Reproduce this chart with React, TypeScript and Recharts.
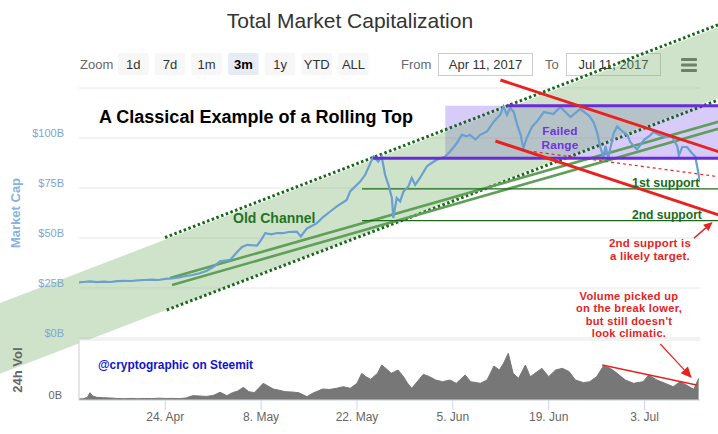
import React from 'react';
import {
  ComposedChart,
  Line,
  AreaChart,
  Area,
  XAxis,
  YAxis,
  CartesianGrid,
  ReferenceLine,
  ReferenceArea,
} from 'recharts';

const FONT = "'Liberation Sans', Arial, Helvetica, sans-serif";

// x values are days after 11 Apr 2017
const capDays = [
  0.4, 1, 2, 3, 4, 5, 6, 7, 8, 9, 10, 11, 12, 13, 14, 15, 16, 17, 18, 19, 20, 21, 22, 22.5, 23.5,
  24.2, 25, 26.4, 27, 27.6, 28.5, 29.3, 30.2, 31, 32.2, 32.8, 33.7, 35.1, 36.1, 37, 38, 39.5, 40,
  41.5, 42.2, 43.4, 44.1, 44.6, 45.1, 45.6, 46.1, 46.3, 46.8, 47.3, 47.8, 48.5, 49, 49.5, 50.2,
  51.2, 51.9, 52.7, 53.9, 54.6, 55.6, 56.3, 57, 57.5, 58.3, 59, 60, 61, 61.9, 62.4, 62.9, 63.4,
  63.9, 64.4, 64.9, 65.3, 65.8, 66.6, 67.3, 68.3, 69.7, 70.7, 72.2, 73.6, 74.4, 75, 75.6, 76.1,
  76.5, 77, 77.3, 77.7, 78.5, 79, 79.7, 80.5, 80.9, 81.9, 82.9, 83.9, 84.3, 85.1, 86, 87, 87.8,
  88, 88.5, 89.2, 89.9, 90.4, 90.7, 91.1,
];
// total market cap, $B
const capValues = [
  27.8, 28.0, 28.3, 27.9, 28.2, 28.0, 28.4, 28.6, 28.5, 28.8, 29.0, 29.2, 29.0, 29.6, 29.8, 30.3, 31.0, 31.5, 32.4, 33.5, 35.5, 38.3, 38.8, 39.1, 43,
  45.5, 46.6, 46.2, 49, 52.4, 51.8, 52.5, 52.4, 53, 53.2, 50.8, 54.8, 57.3, 60.6, 63, 65.7, 69, 73.3,
  78.3, 81.6, 90.8, 88.3, 90.8, 81.6, 76.6, 70, 60, 70, 68.3, 73.3, 75.8, 80, 76.6, 80,
  85.8, 87.5, 89.2, 90.8, 93.3, 97.5, 101.6, 100.8, 101.6, 99.2, 101.6, 103.3, 108.3, 111.6, 115.8, 111.6, 115,
  113, 106.6, 101.6, 95, 100, 105.8, 108.3, 113, 112, 115.5, 110.5, 114.5, 112.5, 110.8, 107.5, 102.5,
  95.8, 90.5, 96, 90, 102.5, 105.8, 103.5, 101.5, 98, 94.2, 99, 101.6, 103, 101.6, 100.5, 100.8, 95.8,
  91.2, 95.5, 95.5, 92.5, 90.8, 85.5, 78,
];

const volDays = [
  0.4, 1, 1.6, 2, 2.4, 3,
  4, 5, 6, 7, 8, 9, 10, 11, 12, 13, 14, 15, 16, 17, 18, 19, 20, 21, 22,
  22.8, 23.6, 24.4, 25.2, 26,
  27.3, 28, 28.8, 29.5, 30.5, 31.5, 32.5, 33.7, 34.5,
  36, 37, 38, 39, 40, 41,
  41.7, 42.3, 43, 44, 44.6, 45.2, 46, 46.5, 47, 47.8, 48.4, 49,
  50, 50.7, 51.6, 52.5, 53.5, 54.6, 55.5, 56.8, 57.6,
  59, 60, 61, 61.8, 62.4, 63.1, 63.8, 64.6, 65.6, 66.3, 67,
  68, 69, 70, 71, 72, 72.9, 74.1, 75, 76, 77, 78, 79,
  80.2, 81.4, 82.8, 83.6, 84.8, 86, 87.2, 88.2, 89.1, 90.2, 90.9,
];
// 24h volume, $B
const volValues = [
  0.15, 0.18, 0.38, 1.1, 0.6, 0.4,
  0.35, 0.3, 0.23, 0.2, 0.24, 0.2, 0.23, 0.21, 0.27, 0.23, 0.24, 0.2, 0.3, 0.65, 0.6, 0.54, 0.68, 1.16, 0.65,
  1.1, 1.35, 1.9, 1.25, 1.1,
  2.5, 2.1, 1.65, 1.5, 1.25, 1.2, 1.1, 0.5, 1.0,
  1.65, 1.58, 1.75, 2.0, 1.75, 2.5,
  4.0, 3.5, 3.1, 4.0, 5.25, 4.75, 4.0, 4.25, 4.5, 3.5, 2.5, 1.75,
  3.0, 3.85, 3.5, 3.0, 2.75, 3.0, 2.5, 3.75, 2.75,
  2.5, 3.0, 5.1, 4.5, 5.5, 7.0, 4.0, 3.25, 5.25, 3.5, 4.0,
  4.75, 3.5, 4.5, 4.75, 4.25, 3.0, 2.6, 2.75, 3.5, 5.1, 4.75, 4.0,
  3.0, 2.5, 2.75, 3.75, 3.0, 2.5, 2.0, 2.75, 2.25, 1.6, 3.25,
];

const capTicks = [0, 25, 50, 75, 100, 125];
const volTicks = [0, 9];
const dateTicks = [13, 27, 41, 55, 69, 83];
const dateLabels = ['24. Apr', '8. May', '22. May', '5. Jun', '19. Jun', '3. Jul'];
const zoomButtons = ['1d', '7d', '1m', '3m', '1y', 'YTD', 'ALL'];
const selectedZoom = '3m';
const dateRange = ['Apr 11, 2017', 'Jul 11, 2017'];

// drawn-on annotations, in (day, $B)
const channelCenter = [{ x: -25.8, y: -19.5 }, { x: 105.8, y: 153.6 }];
const channelTop = [{ x: 12.97, y: 50.25 }, { x: 99.96, y: 164.8 }];
const channelBottom = [{ x: 13.22, y: 14 }, { x: 99.96, y: 127.05 }];
const oldChannelA = [{ x: 13.7, y: 30 }, { x: 95, y: 109.3 }];
const oldChannelB = [{ x: 13.99, y: 26.5 }, { x: 95, y: 105.8 }];
const failedRange = { x1: 53.9, x2: 96, y1: 89.85, y2: 116.15 };
const rangeBottomStart = 43.34;
const rangeTopStart = 62.9;
const supports = [74.6, 58.65];
const supportStart = 41.73;
const redUpper = [{ x: 61.95, y: 129 }, { x: 95, y: 91.8 }];
const redLower = [{ x: 61.22, y: 98.5 }, { x: 95, y: 60.2 }];
const redDotted = [{ x: 66.82, y: 93.15 }, { x: 95, y: 80.1 }];
const targetArrow = [{ x: 90.21, y: 49.85 }, { x: 92.94, y: 58 }];
const volTrend = [{ x: 76.82, y: 5.25 }, { x: 90.6, y: 2.25 }];
const volArrow = [{ x: 85.3, y: 8.4 }, { x: 89.9, y: 3.3 }];

const capData = capDays.map((d, i) => ({ d, cap: capValues[i] }));
const volData = volDays.map((d, i) => ({ d, vol: volValues[i] }));

const RED = '#e8231f';
const PURPLE = '#6a2bd8';
const DARK_GREEN = '#1c6b1c';

function arrowShape(color: string, width: number, head: number) {
  return (p: any) => {
    const x1 = p.x1 ?? p.points?.[0]?.x;
    const y1 = p.y1 ?? p.points?.[0]?.y;
    const x2 = p.x2 ?? p.points?.[1]?.x;
    const y2 = p.y2 ?? p.points?.[1]?.y;
    const a = Math.atan2(y2 - y1, x2 - x1);
    const bx = x2 - head * Math.cos(a);
    const by = y2 - head * Math.sin(a);
    const px = Math.sin(a) * head * 0.45;
    const py = -Math.cos(a) * head * 0.45;
    return (
      <g>
        <line x1={x1} y1={y1} x2={bx} y2={by} stroke={color} strokeWidth={width} />
        <polygon points={`${x2},${y2} ${bx + px},${by + py} ${bx - px},${by - py}`} fill={color} />
      </g>
    );
  };
}

const renderCapTick = (props: any) => {
  const { y, payload } = props;
  if (payload.value === 125) return <g />;
  return (
    <text x={64} y={y - 1.5} textAnchor="end" fill="#7fa6cf" fontSize={11} fontFamily={FONT}>
      {`$${payload.value}B`}
    </text>
  );
};

const renderVolTick = (props: any) => {
  const { y, payload } = props;
  if (payload.value !== 0) return <g />;
  return (
    <text x={62} y={y - 1} textAnchor="end" fill="#666" fontSize={11} fontFamily={FONT}>
      0B
    </text>
  );
};

function TopBar() {
  return (
    <svg width={718} height={434} style={{ position: 'absolute', left: 0, top: 0 }}>
      <text x={350} y={28} textAnchor="middle" fontSize={21} fill="#333" fontFamily={FONT}>
        Total Market Capitalization
      </text>
      <text x={80} y={69} fontSize={13} fill="#666" fontFamily={FONT}>Zoom</text>
      {zoomButtons.map((b, i) => {
        const x = 118 + i * 36.7;
        const sel = b === selectedZoom;
        return (
          <g key={b}>
            <rect x={x} y={53} width={30.5} height={22} rx={2} fill={sel ? '#e6ebf5' : '#f7f7f7'} />
            <text x={x + 15.25} y={69} textAnchor="middle" fontSize={13} fill={sel ? '#000' : '#333'}
              fontWeight={sel ? 'bold' : 'normal'} fontFamily={FONT}>{b}</text>
          </g>
        );
      })}
      <text x={401} y={69} fontSize={13} fill="#666" fontFamily={FONT}>From</text>
      <rect x={438.5} y={53.5} width={94} height={22} fill="#fff" stroke="#ccc" />
      <text x={485.5} y={69} textAnchor="middle" fontSize={13} fill="#333" fontFamily={FONT}>{dateRange[0]}</text>
      <text x={545} y={69} fontSize={13} fill="#666" fontFamily={FONT}>To</text>
      <rect x={566.5} y={53.5} width={94} height={22} fill="#fff" stroke="#ccc" />
      <text x={613.5} y={69} textAnchor="middle" fontSize={13} fill="#333" fontFamily={FONT}>{dateRange[1]}</text>
      {[58, 63.5, 69].map((y) => (
        <rect key={y} x={681} y={y} width={16} height={3} rx={1} fill="#666" />
      ))}
    </svg>
  );
}

// multi-line note, one tspan per line
function Note({ x, y, lines, size, fill, gap, spacing = 0 }: any) {
  return (
    <text x={x} y={y} textAnchor="middle" fontSize={size} fill={fill} fontFamily={FONT} fontWeight="bold" letterSpacing={spacing}>
      {lines.map((l: string, i: number) => (
        <tspan key={i} x={x} dy={i === 0 ? 0 : gap}>{l}</tspan>
      ))}
    </text>
  );
}

function Notes() {
  const t = { fontFamily: FONT, fontWeight: 'bold' as const };
  return (
    <svg width={718} height={434} style={{ position: 'absolute', left: 0, top: 0, pointerEvents: 'none' }}>
      <text x={99} y={122.5} fontSize={18} fill="#000" {...t}>A Classical Example of a Rolling Top</text>
      <text x={233} y={223} fontSize={14} fill="#237323" {...t}>Old Channel</text>
      <Note x={560} y={135.2} lines={['Failed', 'Range']} size={11.8} fill="#7033e0" gap={13.3} spacing={0.2} />
      <text x={632} y={187} fontSize={12.4} fill={DARK_GREEN} {...t}>1st support</text>
      <text x={632} y={218.5} fontSize={12.1} fill={DARK_GREEN} {...t}>2nd support</text>
      <Note x={650} y={246.5} lines={['2nd support is', 'a likely target.']} size={11.5} fill={RED} gap={13} spacing={0.2} />
      <Note x={629} y={299.5} lines={['Volume picked up', 'on the break lower,', "but still doesn't", 'look climatic.']}
        size={11.1} fill={RED} gap={12.6} spacing={0.3} />
      <text x={98} y={368.6} fontSize={11.9} fill="#1212cc" {...t}>@cryptographic on Steemit</text>
    </svg>
  );
}

function MarketCapChart() {
  return (
    <div style={{ position: 'absolute', left: 0, top: 0 }}>
      <ComposedChart width={718} height={434} data={capData} margin={{ top: 88, right: 18, bottom: 96, left: 0 }}>
        <CartesianGrid vertical={false} stroke="#e6e6e6" />
        <XAxis dataKey="d" type="number" domain={[0.4, 91.1]} hide allowDataOverflow />
        <YAxis
          type="number"
          domain={[0, 125]}
          ticks={capTicks}
          width={79}
          axisLine={false}
          tickLine={false}
          tick={renderCapTick}
          allowDataOverflow
          label={{
            content: () => (
              <text transform="translate(15,213) rotate(-90)" textAnchor="middle" dominantBaseline="central"
                fontSize={13} fontWeight="bold" fill="#86b3e0" fontFamily={FONT}>
                Market Cap
              </text>
            ),
          }}
        />
        <ReferenceLine segment={channelCenter} stroke="rgb(121,178,112)" strokeOpacity={0.36} strokeWidth={66} ifOverflow="visible" />
        <ReferenceArea x1={failedRange.x1} x2={failedRange.x2} y1={failedRange.y1} y2={failedRange.y2}
          fill="#9a7cf0" fillOpacity={0.4} stroke="none" ifOverflow="visible" />
        <ReferenceLine segment={channelTop} stroke="#17661a" strokeWidth={3} strokeDasharray="2.5 2.5" ifOverflow="visible" />
        <ReferenceLine segment={channelBottom} stroke="#17661a" strokeWidth={3} strokeDasharray="2.5 2.5" ifOverflow="visible" />
        <ReferenceLine segment={oldChannelA} stroke="#5f9f57" strokeWidth={2.6} ifOverflow="visible" />
        <ReferenceLine segment={oldChannelB} stroke="#5f9f57" strokeWidth={2.6} ifOverflow="visible" />
        {supports.map((v) => (
          <ReferenceLine key={v} segment={[{ x: supportStart, y: v }, { x: 96, y: v }]} stroke={DARK_GREEN} strokeWidth={1.3} ifOverflow="visible" />
        ))}
        <ReferenceLine segment={redDotted} stroke={RED} strokeWidth={1.2} strokeDasharray="3 3" ifOverflow="visible" />
        <Line dataKey="cap" type="linear" stroke="#6a9fcf" strokeWidth={2.2} dot={false} activeDot={false} isAnimationActive={false} />
        <ReferenceLine segment={[{ x: rangeBottomStart, y: failedRange.y1 }, { x: 96, y: failedRange.y1 }]} stroke={PURPLE} strokeWidth={3} ifOverflow="visible" />
        <ReferenceLine segment={[{ x: rangeTopStart, y: failedRange.y2 }, { x: 96, y: failedRange.y2 }]} stroke={PURPLE} strokeWidth={3} ifOverflow="visible" />
        <ReferenceLine segment={redUpper} stroke={RED} strokeWidth={3} ifOverflow="visible" />
        <ReferenceLine segment={redLower} stroke={RED} strokeWidth={3} ifOverflow="visible" />
        <ReferenceLine segment={targetArrow} ifOverflow="visible" shape={arrowShape(RED, 1.5, 9)} />
      </ComposedChart>
    </div>
  );
}

function VolumeChart() {
  return (
    <div style={{ position: 'absolute', left: 0, top: 0 }}>
      <AreaChart width={718} height={434} data={volData} margin={{ top: 340, right: 18, bottom: 0, left: 0 }}>
        <CartesianGrid vertical={false} stroke="#e6e6e6" fill="#fff" fillOpacity={1} />
        <XAxis
          dataKey="d"
          type="number"
          domain={[0.4, 91.1]}
          ticks={dateTicks}
          tickFormatter={(v: number) => dateLabels[dateTicks.indexOf(v)]}
          height={34}
          axisLine={{ stroke: '#ccd6eb' }}
          tickLine={{ stroke: '#ccd6eb' }}
          tickSize={10}
          tick={{ fill: '#666', fontSize: 12, fontFamily: FONT }}
          allowDataOverflow
        />
        <YAxis
          type="number"
          domain={[0, 9]}
          ticks={volTicks}
          width={79}
          axisLine={{ stroke: '#ccc' }}
          tickLine={false}
          tick={renderVolTick}
          allowDataOverflow
          label={{
            content: () => (
              <text transform="translate(17,370) rotate(-90)" textAnchor="middle" dominantBaseline="central"
                fontSize={13} fontWeight="bold" fill="#666" fontFamily={FONT}>
                24h Vol
              </text>
            ),
          }}
        />
        <Area dataKey="vol" type="linear" stroke="#777" strokeWidth={1} fill="#777" fillOpacity={1} isAnimationActive={false} />
        <ReferenceLine segment={volTrend} stroke={RED} strokeWidth={1.4} ifOverflow="visible" />
        <ReferenceLine segment={volArrow} ifOverflow="visible" shape={arrowShape(RED, 1.2, 11)} />
      </AreaChart>
    </div>
  );
}

export default function App() {
  return (
    <div style={{ position: 'absolute', left: 0, top: 0, width: 718, height: 434, background: '#fff', overflow: 'hidden' }}>
      <TopBar />
      <MarketCapChart />
      <VolumeChart />
      <Notes />
    </div>
  );
}
